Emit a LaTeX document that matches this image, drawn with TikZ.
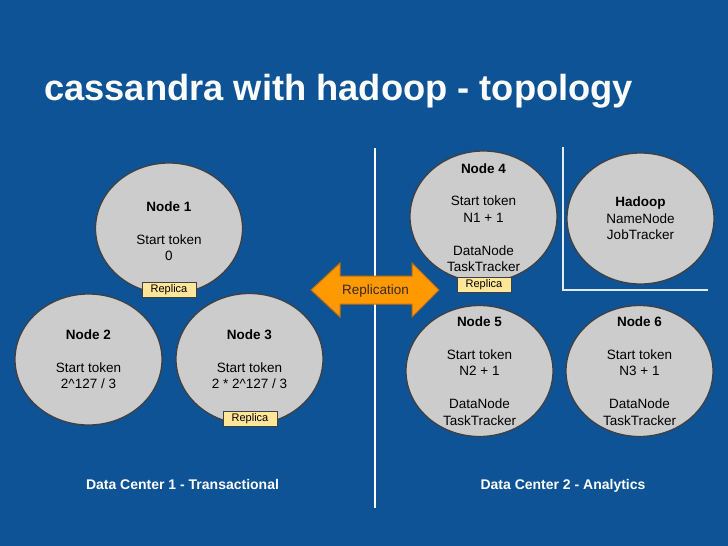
\documentclass[tikz,border=0pt]{standalone}
\usepackage{fontspec}
\setmainfont{Liberation Sans}
\usetikzlibrary{shapes.geometric}
\definecolor{bgblue}{RGB}{14,83,150}
\definecolor{nodegray}{RGB}{204,204,204}
\definecolor{nodeborder}{RGB}{64,64,64}
\definecolor{repfill}{RGB}{255,230,153}
\definecolor{arrowfill}{RGB}{255,153,0}
\definecolor{arrowborder}{RGB}{190,110,0}
\definecolor{arrowtext}{RGB}{60,40,20}
\definecolor{bracketcol}{RGB}{225,235,245}
\tikzset{
  cnode/.style={ellipse, draw=nodeborder, line width=1.3pt, fill=nodegray,
    minimum width=147pt, minimum height=131pt, inner sep=0pt},
  ctext/.style={align=center, inner sep=0pt, text=black,
    font=\fontsize{13.5}{16.4}\selectfont},
  replica/.style={rectangle, draw=nodeborder, line width=1pt, fill=repfill,
    minimum width=54pt, minimum height=15pt, inner sep=0pt, text=black,
    font=\fontsize{11}{12}\selectfont},
  dclabel/.style={text=white, font=\bfseries\fontsize{14}{16}\selectfont, inner sep=0pt, anchor=base},
  sepline/.style={white, line width=2.5pt},
  bracket/.style={bracketcol, line width=2pt},
  arrowshape/.style={fill=arrowfill, draw=arrowborder, line width=1pt, line join=miter}
}
\begin{document}
\begin{tikzpicture}[x=1pt,y=-1pt]
\useasboundingbox (0,0) rectangle (728,546);
\fill[bgblue] (0,0) rectangle (728,546);

\node[anchor=base west, text=white, inner sep=0pt,
  font=\bfseries\fontsize{36.3}{40}\selectfont] (title) at (44,100)
  {cassandra with hadoop - topology};

% separators
\coordinate (septop) at (375,148);
\coordinate (sepbot) at (375,508);
\draw[sepline] (septop) -- (sepbot);
\coordinate (brtop) at (563,147);
\coordinate (brcorner) at (563,290);
\coordinate (brend) at (708,290);
\draw[bracket] (brtop) -- (brcorner) -- (brend);

% data center 1 nodes
\node[cnode] (n1) at (169,228.5) {};
\node[ctext] (n1t) at (169,231.5) {\textbf{Node 1}\\[16.4pt]Start token\\0};
\node[cnode] (n2) at (88.5,359.5) {};
\node[ctext] (n2t) at (88.5,359.5) {\textbf{Node 2}\\[16.4pt]Start token\\2\^{}127 / 3};
\node[cnode] (n3) at (249.5,359) {};
\node[ctext] (n3t) at (249.5,359) {\textbf{Node 3}\\[16.4pt]Start token\\2 * 2\^{}127 / 3};

% data center 2 nodes
\node[cnode] (n4) at (483.5,216.5) {};
\node[ctext] (n4t) at (483.5,217.5) {\textbf{Node 4}\\[16.4pt]Start token\\N1 + 1\\[16.4pt]DataNode\\TaskTracker};
\node[cnode] (hd) at (640.5,218.5) {};
\node[ctext] (hdt) at (640.5,218.5) {\textbf{Hadoop}\\NameNode\\JobTracker};
\node[cnode] (n5) at (479.5,371) {};
\node[ctext] (n5t) at (479.5,371) {\textbf{Node 5}\\[16.4pt]Start token\\N2 + 1\\[16.4pt]DataNode\\TaskTracker};
\node[cnode] (n6) at (639.5,371) {};
\node[ctext] (n6t) at (639.5,371) {\textbf{Node 6}\\[16.4pt]Start token\\N3 + 1\\[16.4pt]DataNode\\TaskTracker};

% replicas
\node[replica] (r1) at (169,289.5) {Replica};
\node[replica] (r3) at (250,418.5) {Replica};
\node[replica] (r4) at (484,284.5) {Replica};

% replication arrow
\draw[arrowshape] (311,290) -- (340,263) -- (340,276) -- (412,276) -- (412,263)
  -- (439,290) -- (412,317) -- (412,304) -- (340,304) -- (340,317) -- cycle;
\node[text=arrowtext, font=\fontsize{13.5}{16}\selectfont, inner sep=0pt, anchor=base] (repl) at (375.5,294) {Replication};

% labels
\node[dclabel] (dc1) at (182.5,489) {Data Center 1 - Transactional};
\node[dclabel] (dc2) at (563,489) {Data Center 2 - Analytics};
\end{tikzpicture}
\end{document}
